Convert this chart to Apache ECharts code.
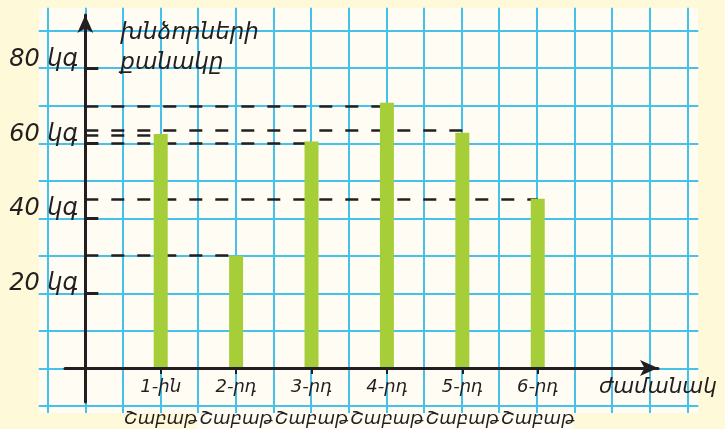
<!DOCTYPE html>
<html>
<head>
<meta charset="utf-8">
<script src="https://cdn.jsdelivr.net/npm/echarts@6/dist/echarts.min.js"></script>
<style>
html,body{margin:0;padding:0;background:#fef9d8;}
#chart{width:725px;height:429px;}
</style>
</head>
<body>
<div id="chart"></div>
<script>
// ---- data ----
const categories = ['1-ին', '2-րդ', '3-րդ', '4-րդ', '5-րդ', '6-րդ'];
const weekWord = 'Շաբաթ';
const appleValues = [62.5, 30, 60.5, 70.8, 62.8, 45.2];
const guideValues = [62.2, 30, 60, 69.8, 63.5, 45];
const yTickValues = [20, 40, 60, 80];
const yTickLabels = ['20 կգ', '40 կգ', '60 կգ', '80 կգ'];
const yAxisTitle = 'խնձորների\nքանակը';
const xAxisTitle = 'ժամանակ';

// ---- styling ----
const INK = '#231f20';
const BLUE = '#45c2ec';
const PANEL = '#fffcf3';
const GREEN = '#a6ce39';
const FONT = 'DejaVu Sans';

const catPos = categories.map((c, i) => i + 1);

const hiddenAxis = (g) => ({ type: 'value', gridIndex: g, show: false, min: 0, max: 1 });
const gridBase = { containLabel: false, outerBoundsMode: 'none' };

const X_MAX = 7.595, Y_MAX = 94.26;

const option = {
  backgroundColor: '#fef9d8',
  animation: false,
  grid: [
    Object.assign({ left: 39, top: 8, width: 659, height: 405, show: true, backgroundColor: PANEL, borderWidth: 0, z: -1 }, gridBase),
    Object.assign({ left: 196, top: 410, width: 377, height: 19, show: true, backgroundColor: PANEL, borderWidth: 0, z: -1 }, gridBase),
    Object.assign({ left: 47.7, top: 30.7, width: 639.6, height: 375.3, show: false }, gridBase),
    Object.assign({ left: 65, top: 15, width: 593, height: 387, show: false }, gridBase),
    Object.assign({ left: 85.3, top: 15, width: 572.7, height: 353, show: false }, gridBase)
  ],
  xAxis: [
    hiddenAxis(0),
    hiddenAxis(1),
    {
      type: 'value', gridIndex: 2, min: 0, max: 17, interval: 1, position: 'bottom',
      axisLine: { show: true, onZero: false, lineStyle: { color: BLUE, width: 2 } },
      axisTick: { show: true, inside: false, length: 7, lineStyle: { color: BLUE, width: 2 } },
      axisLabel: { show: false },
      splitLine: { show: true, lineStyle: { color: BLUE, width: 2 } }
    },
    {
      type: 'value', gridIndex: 2, min: 0, max: 17, interval: 1, position: 'top',
      axisLine: { show: true, onZero: false, lineStyle: { color: BLUE, width: 2 } },
      axisTick: { show: true, inside: false, length: 23, lineStyle: { color: BLUE, width: 2 } },
      axisLabel: { show: false },
      splitLine: { show: false }
    },
    {
      // axis line with arrow, crossing the vertical axis
      type: 'value', gridIndex: 3, min: -0.269, max: X_MAX, z: 3,
      axisLine: {
        show: true, onZero: true, symbol: ['none', 'arrow'], symbolSize: [12, 18],
        lineStyle: { color: INK, width: 3 }
      },
      axisTick: { show: false }, axisLabel: { show: false }, splitLine: { show: false }
    },
    {
      type: 'value', gridIndex: 4, min: 0, max: X_MAX, z: 3, position: 'bottom',
      name: xAxisTitle, nameLocation: 'end', nameGap: -59,
      nameTextStyle: {
        fontFamily: FONT, fontStyle: 'italic', fontSize: 21.5, color: INK, lineHeight: 38,
        align: 'left', verticalAlign: 'top'
      },
      axisLine: { show: false, onZero: false },
      axisTick: { show: true, inside: false, length: 6, customValues: catPos, lineStyle: { color: INK, width: 2 } },
      axisLabel: {
        show: true, customValues: catPos, margin: 3, hideOverlap: false,
        showMinLabel: true, showMaxLabel: true,
        fontFamily: FONT, fontStyle: 'italic', fontSize: 18, color: INK, lineHeight: 32,
        formatter: (v) => {
          const i = Math.round(v) - 1;
          if (i < 0 || i >= categories.length) return '';
          return categories[i] + '\n' + weekWord;
        }
      },
      splitLine: { show: false }
    }
  ],
  yAxis: [
    hiddenAxis(0),
    hiddenAxis(1),
    {
      type: 'value', gridIndex: 2, min: 0, max: 10, interval: 1, position: 'left',
      axisLine: { show: true, onZero: false, lineStyle: { color: BLUE, width: 2 } },
      axisTick: { show: true, inside: false, length: 9, lineStyle: { color: BLUE, width: 2 } },
      axisLabel: { show: false },
      splitLine: { show: true, lineStyle: { color: BLUE, width: 2 } }
    },
    {
      type: 'value', gridIndex: 2, min: 0, max: 10, interval: 1, position: 'right',
      axisLine: { show: true, onZero: false, lineStyle: { color: BLUE, width: 2 } },
      axisTick: { show: true, inside: false, length: 11, lineStyle: { color: BLUE, width: 2 } },
      axisLabel: { show: false },
      splitLine: { show: false }
    },
    {
      type: 'value', gridIndex: 3, min: -9.08, max: Y_MAX, z: 3,
      axisLine: {
        show: true, onZero: true, symbol: ['none', 'arrow'], symbolSize: [12, 18],
        lineStyle: { color: INK, width: 3 }
      },
      axisTick: { show: false }, axisLabel: { show: false }, splitLine: { show: false }
    },
    {
      type: 'value', gridIndex: 4, min: 0, max: Y_MAX, z: 3, position: 'left',
      name: yAxisTitle, nameLocation: 'end', nameGap: -3,
      nameTextStyle: {
        fontFamily: FONT, fontStyle: 'italic', fontSize: 23, color: INK, lineHeight: 30,
        align: 'left', verticalAlign: 'top', padding: [0, 0, 0, 35]
      },
      axisLine: { show: false, onZero: false },
      axisTick: { show: true, inside: true, length: 13, customValues: yTickValues, lineStyle: { color: INK, width: 3 } },
      axisLabel: {
        show: true, customValues: yTickValues, margin: 7,
        fontFamily: FONT, fontStyle: 'italic', fontSize: 24, color: INK,
        verticalAlign: 'bottom', lineHeight: 18,
        formatter: (v) => {
          const i = yTickValues.indexOf(Math.round(v));
          return i >= 0 ? yTickLabels[i] : '';
        }
      },
      splitLine: { show: false }
    }
  ],
  series: [
    {
      type: 'bar',
      xAxisIndex: 5,
      yAxisIndex: 5,
      barWidth: 14,
      z: 2,
      itemStyle: { color: GREEN },
      data: appleValues.map((v, i) => [catPos[i], v]),
      markLine: {
        z: 1,
        silent: true,
        symbol: ['none', 'none'],
        label: { show: false },
        lineStyle: { color: INK, width: 2.5, type: [13, 13] },
        emphasis: { disabled: true },
        data: guideValues.map((g, i) => [{ coord: [0, g] }, { coord: [catPos[i], g] }])
      }
    }
  ]
};

const chart = echarts.init(document.getElementById('chart'), null, { renderer: 'canvas' });
chart.setOption(option);
</script>
</body>
</html>
